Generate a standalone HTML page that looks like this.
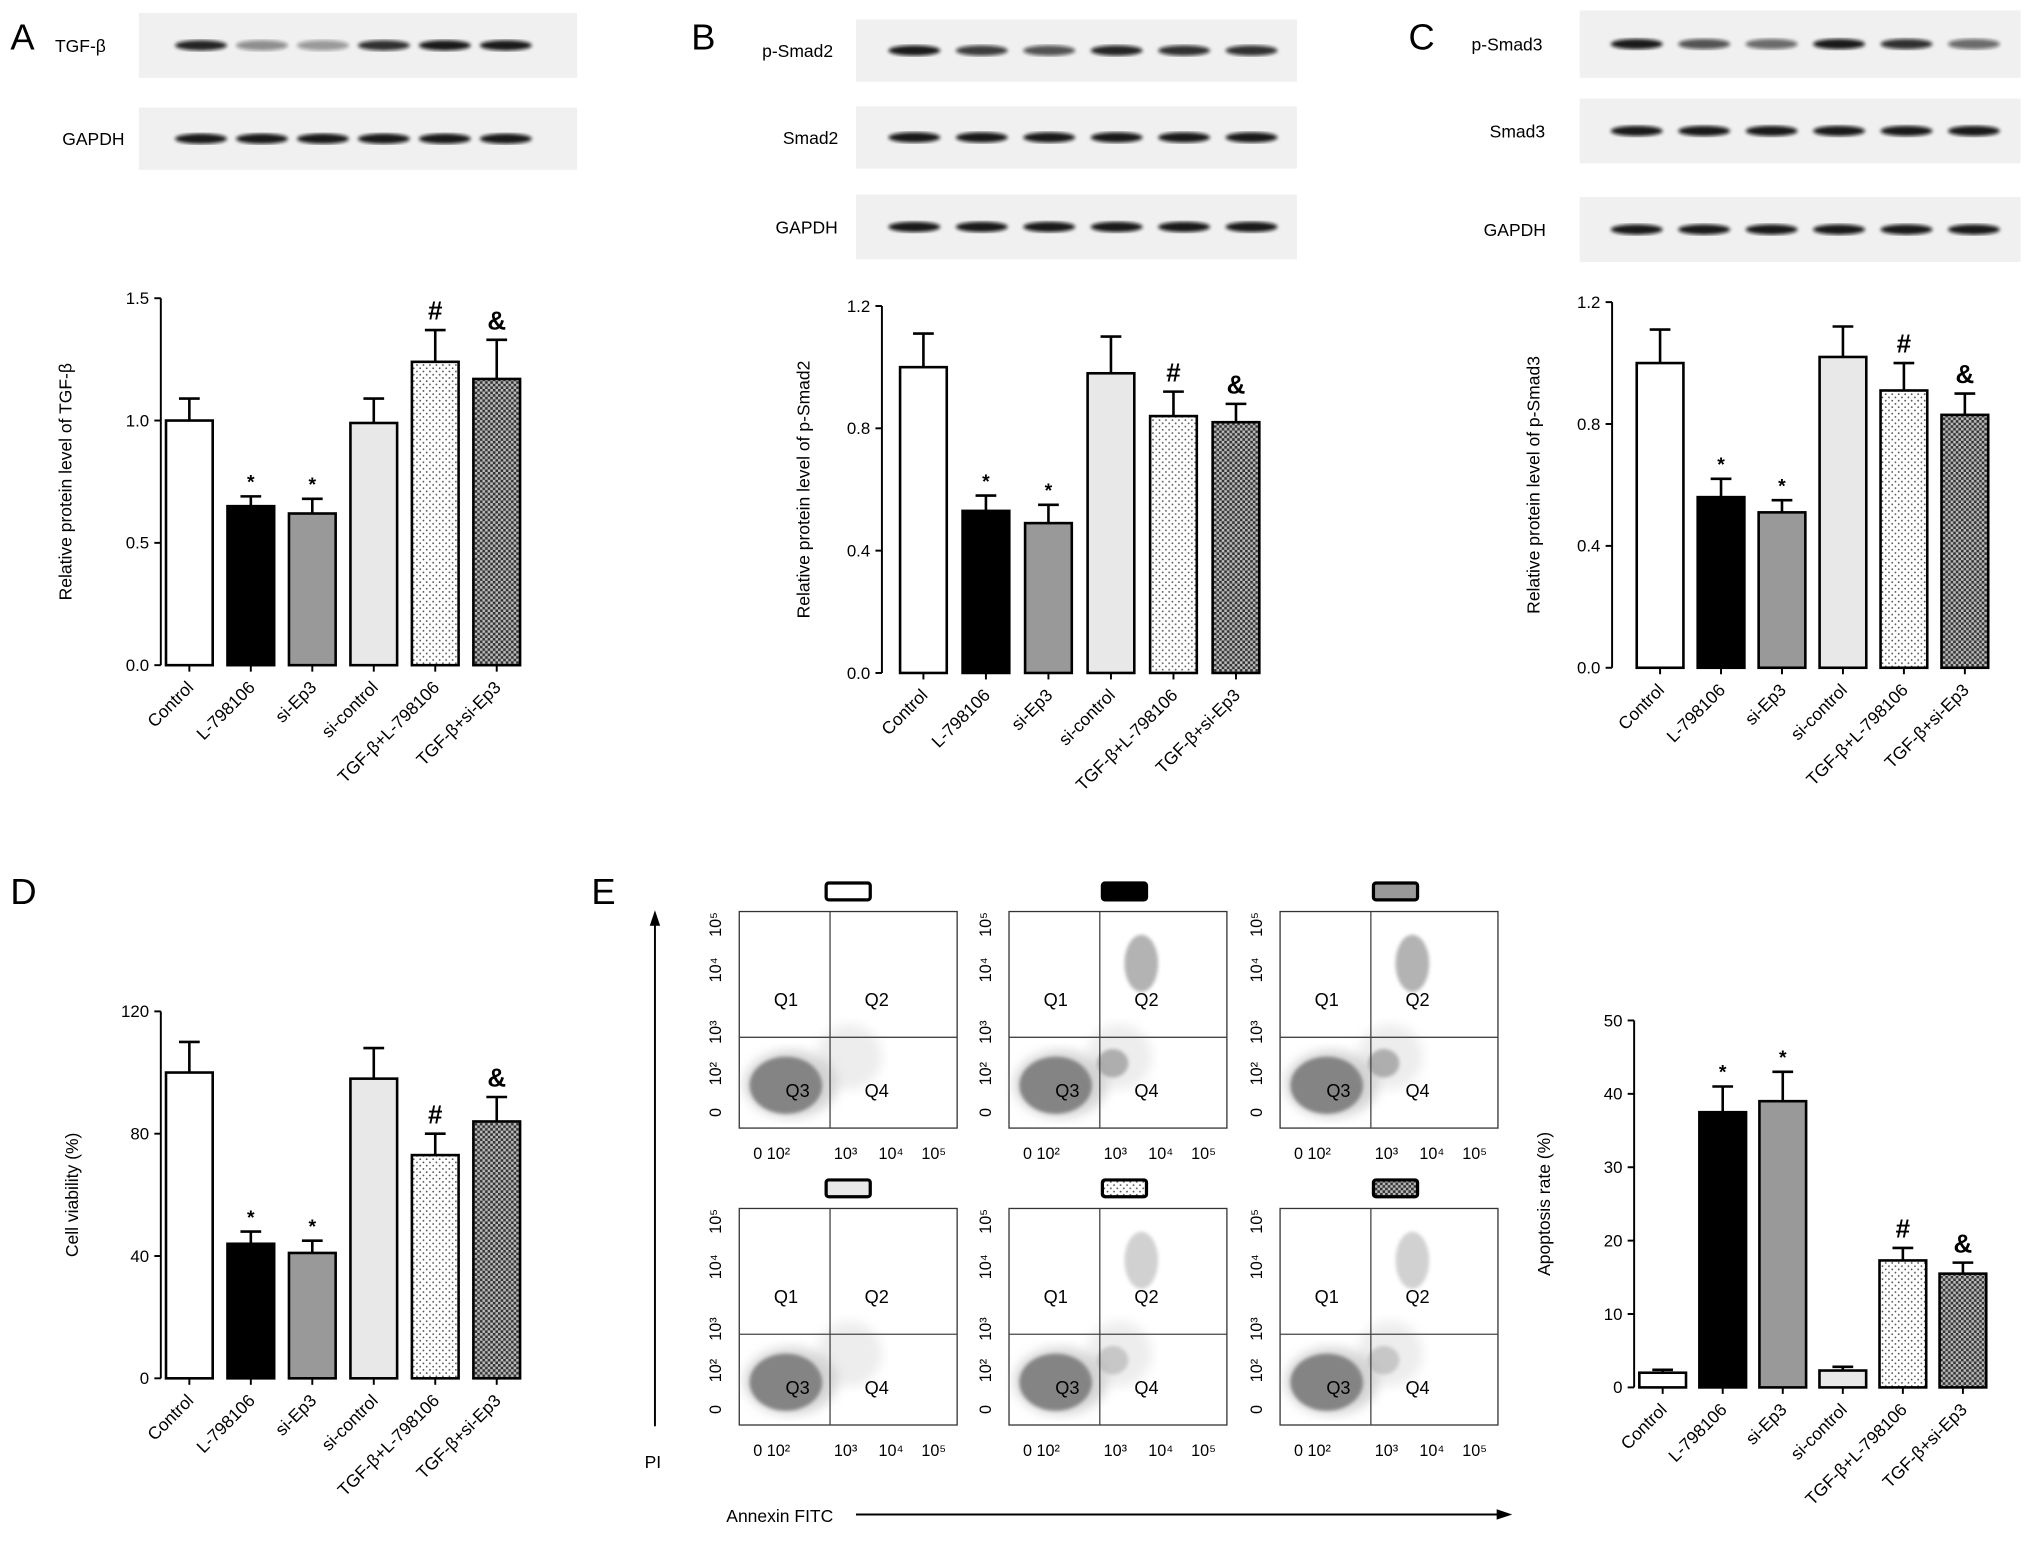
<!DOCTYPE html>
<html><head><meta charset="utf-8"><style>
html,body{margin:0;padding:0;background:#fff}
svg{display:block;font-family:"Liberation Sans",Arial,sans-serif}
</style></head><body>
<svg id="fig" xmlns="http://www.w3.org/2000/svg" width="2031" height="1543" viewBox="0 0 1566 1190" preserveAspectRatio="none">
<defs>
<pattern id="dots" width="5" height="5" patternUnits="userSpaceOnUse"><rect width="5" height="5" fill="#fff"/><circle cx="1.5" cy="1.5" r="0.7" fill="#555"/><circle cx="4" cy="4" r="0.7" fill="#555"/></pattern>
<pattern id="check" width="4" height="4" patternUnits="userSpaceOnUse"><rect width="4" height="4" fill="#bbb"/><rect width="2" height="2" fill="#333"/><rect x="2" y="2" width="2" height="2" fill="#333"/></pattern>
<filter id="blur"><feGaussianBlur stdDeviation="1.5"/></filter>
<filter id="blur2"><feGaussianBlur stdDeviation="4"/></filter>
</defs>
<g id="root"></g>
</svg>
<script>
const categories = ["Control","L-798106","si-Ep3","si-control","TGF-β+L-798106","TGF-β+si-Ep3"];
const valuesA = [1.0,0.65,0.62,0.99,1.24,1.17];
const errA = [1.09,0.69,0.68,1.09,1.37,1.33];
const valuesB = [1.0,0.53,0.49,0.98,0.84,0.82];
const errB = [1.11,0.58,0.55,1.10,0.92,0.88];
const valuesC = [1.0,0.56,0.51,1.02,0.91,0.83];
const errC = [1.11,0.62,0.55,1.12,1.0,0.90];
const valuesD = [100,44,41,98,73,84];
const errD = [110,48,45,108,80,92];
const valuesE = [2.0,37.5,39.0,2.3,17.3,15.5];
const errE = [2.4,41,43,2.8,19,17];
const marksA = ["","*","*","","#","&"];
const marksBCDE = ["","*","*","","#","&"];
const ticksA = [0,0.5,1.0,1.5];
const ticksBC = [0,0.4,0.8,1.2];
const ticksD = [0,40,80,120];
const ticksE = [0,10,20,30,40,50];
const fills = ["#fff","#000","#999","#e8e8e8","url(#dots)","url(#check)"];

const NS="http://www.w3.org/2000/svg";
const root=document.getElementById('root');
function el(tag,attrs,parent,text){const e=document.createElementNS(NS,tag);for(const k in attrs)e.setAttribute(k,attrs[k]);if(text!==undefined)e.textContent=text;(parent||root).appendChild(e);return e;}

function chart(name,ax,y0,yTop,maxV,x0,step,bw,vals,errs,ticks,dec,marks,title,titleX){
  const g=el('g',{},root);
  
  
  const ys=v=>y0-(v/maxV)*(y0-yTop);
  const xs=i=>x0+i*step;
  const axis=el('line',{x1:ax,y1:yTop,x2:ax,y2:y0,stroke:'#000','stroke-width':1.5},g);
  
  
  ticks.forEach(t=>{
    el('line',{x1:ax-5,x2:ax,y1:ys(t),y2:ys(t),stroke:'#000','stroke-width':1.5},g);
    const tl=el('text',{x:ax-9,y:ys(t)+4.5,'text-anchor':'end','font-size':13},g,t.toFixed(dec));
    
    
  });
  const tt=el('text',{x:titleX,y:(y0+yTop)/2,'text-anchor':'middle','font-size':13.5,transform:`rotate(-90 ${titleX} ${(y0+yTop)/2})`},g,title);
  
  
  vals.forEach((v,i)=>{
    const cx=xs(i);
    el('line',{x1:cx,x2:cx,y1:ys(v),y2:ys(errs[i]),stroke:'#000','stroke-width':2},g);
    el('line',{x1:cx-8,x2:cx+8,y1:ys(errs[i]),y2:ys(errs[i]),stroke:'#000','stroke-width':2},g);
    const b=el('rect',{x:cx-bw/2,y:ys(v),width:bw,height:y0-ys(v),fill:fills[i],stroke:'#000','stroke-width':2},g);
    
    
    el('line',{x1:cx,x2:cx,y1:y0,y2:y0+5,stroke:'#000','stroke-width':1.5},g);
    const lbl=el('text',{x:cx+4,y:y0+18,'text-anchor':'end','font-size':13.5,transform:`rotate(-45 ${cx+4} ${y0+18})`},g,categories[i]);
    
    
    if(marks[i]){
      const big=marks[i]!=='*';
      const m=el('text',{x:cx,y:ys(errs[i])-(big?8:6),'text-anchor':'middle','font-size':big?20:15,'font-weight':'bold'},g,marks[i]);
      
      
    }
  });
}
chart('chart-a-tgfb',124,513,230,1.5,146,47.4,36,valuesA,errA,ticksA,1,marksA,'Relative protein level of TGF-β',55);
chart('chart-b-psmad2',680,519,236,1.2,712,48.2,36,valuesB,errB,ticksBC,1,marksBCDE,'Relative protein level of p-Smad2',624);
chart('chart-c-psmad3',1243,515,233,1.2,1280,47,36,valuesC,errC,ticksBC,1,marksBCDE,'Relative protein level of p-Smad3',1187);
chart('chart-d-viability',124,1063,780,120,146,47.4,36,valuesD,errD,ticksD,0,marksBCDE,'Cell viability (%)',60);
chart('chart-e-apoptosis',1260,1070,787,50,1282,46.3,36,valuesE,errE,ticksE,0,marksBCDE,'Apoptosis rate (%)',1195);

function blot(name,label,lx,x,y,w,h,bx0,bstep,intens){
  const g=el('g',{},root);
  
  
  el('rect',{x:x,y:y,width:w,height:h,fill:'#f0f0f0'},g);
  intens.forEach((a,i)=>{el('ellipse',{cx:bx0+i*bstep,cy:y+h/2,rx:20,ry:4,fill:'#111','fill-opacity':a,filter:'url(#blur)'},g);});
  const t=el('text',{x:lx,y:y+h/2+5,'font-size':13.5,'text-anchor':'middle'},g,label);
  
  
}
blot('blot-a-tgfb','TGF-β',62,107,10,338,50,155,47,[0.9,0.45,0.4,0.85,0.95,0.95]);
blot('blot-a-gapdh','GAPDH',72,107,83,338,48,155,47,[0.95,0.95,0.95,0.95,0.95,0.95]);
blot('blot-b-psmad2','p-Smad2',615,660,15,340,48,705,52,[0.95,0.8,0.7,0.9,0.85,0.85]);
blot('blot-b-smad2','Smad2',625,660,82,340,48,705,52,[0.95,0.95,0.95,0.95,0.95,0.95]);
blot('blot-b-gapdh','GAPDH',622,660,150,340,50,705,52,[0.95,0.95,0.95,0.95,0.95,0.95]);
blot('blot-c-psmad3','p-Smad3',1162,1218,8,340,52,1262,52,[0.95,0.7,0.6,0.95,0.85,0.6]);
blot('blot-c-smad3','Smad3',1170,1218,76,340,50,1262,52,[0.95,0.95,0.95,0.95,0.95,0.95]);
blot('blot-c-gapdh','GAPDH',1168,1218,152,340,50,1262,52,[0.95,0.95,0.95,0.95,0.95,0.95]);

[['A',8,38],['B',533,38],['C',1086,38],['D',8,697],['E',456,697]].forEach(p=>{
  const t=el('text',{x:p[1],y:p[2],'font-size':28},root,p[0]);
  
  
});

const plots=[[570,703,0,0.1],[778,703,1,1],[987,703,2,1],[570,932,3,0.1],[778,932,4,0.6],[987,932,5,0.6]];
plots.forEach((p,k)=>{
  const [x,y,fi,q2]=p, w=168,h=167;
  const g=el('g',{},root);
  
  
  const lg=el('rect',{x:x+w/2-17+(k%3===0?0:5),y:y-22,width:34,height:13,fill:fills[fi],stroke:'#000','stroke-width':2.5,rx:2},g);
  
  
  el('rect',{x:x,y:y,width:w,height:h,fill:'#fff',stroke:'#333','stroke-width':1},g);
  el('ellipse',{cx:x+40,cy:y+h-34,rx:36,ry:26,fill:'#bbb','fill-opacity':0.6,filter:'url(#blur2)'},g);
  el('ellipse',{cx:x+36,cy:y+h-33,rx:28,ry:22,fill:'#808080','fill-opacity':0.95,filter:'url(#blur)'},g);
  el('ellipse',{cx:x+85,cy:y+h-55,rx:25,ry:25,fill:'#ccc','fill-opacity':0.35,filter:'url(#blur2)'},g);
  if(q2>0.3){
    el('ellipse',{cx:x+102,cy:y+40,rx:13,ry:22,fill:'#999','fill-opacity':q2*0.75,filter:'url(#blur)'},g);
    el('ellipse',{cx:x+80,cy:y+h-50,rx:12,ry:11,fill:'#999','fill-opacity':q2*0.75,filter:'url(#blur)'},g);
  }
  el('line',{x1:x+70,x2:x+70,y1:y,y2:y+h,stroke:'#444','stroke-width':1},g);
  el('line',{x1:x,x2:x+w,y1:y+97,y2:y+97,stroke:'#444','stroke-width':1},g);
  [['Q1',36,68],['Q2',106,68],['Q3',45,138],['Q4',106,138]].forEach(q=>el('text',{x:x+q[1],y:y+q[2]+5,'font-size':14,'text-anchor':'middle'},g,q[0]));
  const xt=['0 10²','10³','10⁴','10⁵'];[[25,0],[82,1],[117,2],[150,3]].forEach(t=>el('text',{x:x+t[0],y:y+h+24,'font-size':12.5,'text-anchor':'middle'},g,xt[t[1]]));
  const yt=['10⁵','10⁴','10³','10²','0'];[[10,0],[45,1],[93,2],[125,3],[155,4]].forEach(t=>el('text',{x:x-14,y:y+t[0],'font-size':12.5,'text-anchor':'middle',transform:`rotate(-90 ${x-14} ${y+t[0]})`},g,yt[t[1]]));
});
const pi=el('line',{x1:505,y1:1100,x2:505,y2:712,stroke:'#000','stroke-width':1.5},root);


el('polygon',{points:'505,702 501,714 509,714',fill:'#000'},root);
const pit=el('text',{x:497,y:1132,'font-size':13.5},root,'PI');


const an=el('line',{x1:660,y1:1168,x2:1155,y2:1168,stroke:'#000','stroke-width':1.5},root);


el('polygon',{points:'1166,1168 1154,1164 1154,1172',fill:'#000'},root);
const at=el('text',{x:560,y:1174,'font-size':13.5},root,'Annexin FITC');


</script>
</body></html>
